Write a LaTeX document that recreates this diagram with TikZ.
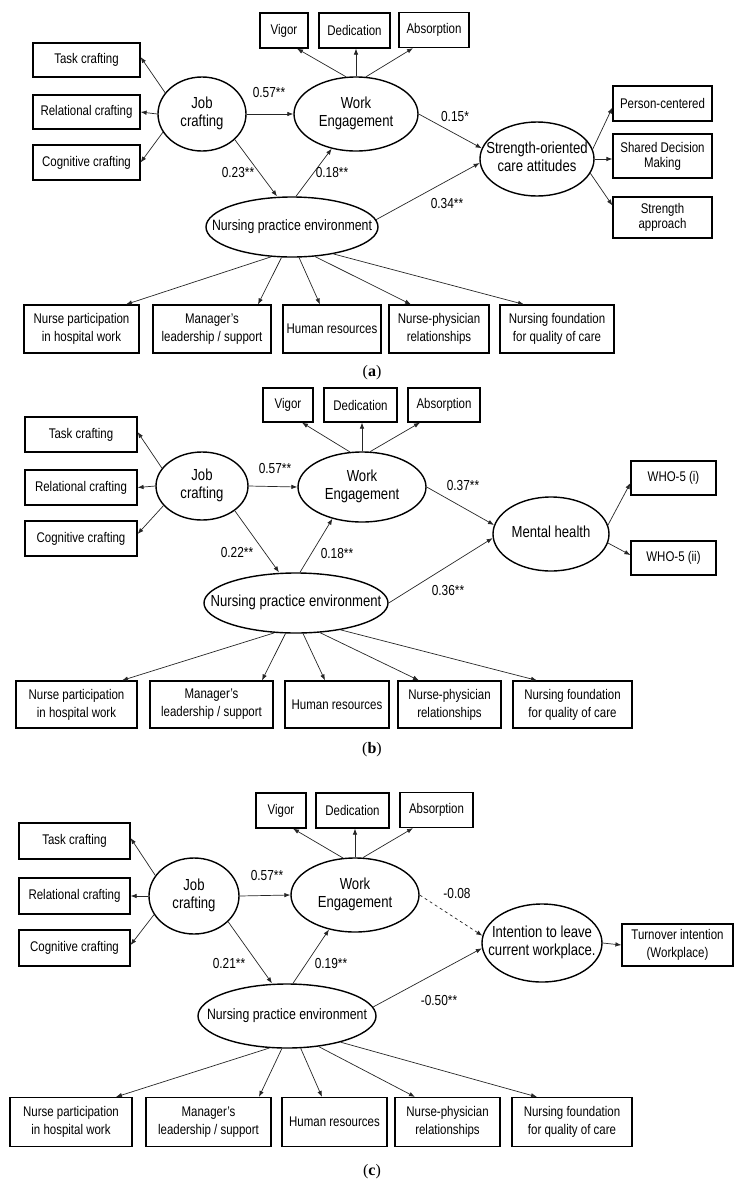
\documentclass[tikz,border=0pt]{standalone}
\usepackage{fontspec}
\setmainfont{Liberation Sans}[FakeStretch=0.82]
\newfontfamily\capfont{Liberation Serif}
\usetikzlibrary{arrows.meta,calc,shapes.geometric}
\newcommand\et[1]{\makebox[0pt]{\begin{tabular}{@{}c@{}}#1\end{tabular}}}
\tikzset{
 box/.style={draw, line width=1.2pt, rectangle, inner sep=0pt, align=center, font=\fontsize{14}{18}\selectfont},
 tight/.style={font=\fontsize{14}{15}\selectfont},
 ell/.style={draw, line width=1.4pt, ellipse, inner sep=0pt, font=\fontsize{16}{18.5}\selectfont},
 npetxt/.style={font=\fontsize{15}{18}\selectfont},
 arr/.style={-{Latex[length=6pt,width=4.5pt]}, line width=0.7pt, draw=black!85},
 coef/.style={inner sep=0pt, font=\fontsize{14.5}{16}\selectfont},
 captxt/.style={inner sep=0pt, font=\capfont\fontsize{16}{18}\selectfont},
}
\begin{document}
\begin{tikzpicture}[x=1pt,y=-1pt]
\useasboundingbox (0,0) rectangle (744,1187);
% ================= (a) =================
\node[box,minimum width=107pt,minimum height=34pt] (taskA) at (86.5,60) {Task crafting};
\node[box,minimum width=107pt,minimum height=34pt] (relA) at (86.5,112) {Relational crafting};
\node[box,minimum width=107pt,minimum height=35pt] (cogA) at (86.5,162.5) {Cognitive crafting};
\node[box,minimum width=48pt,minimum height=35pt] (vigA) at (284,30.5) {Vigor};
\node[box,minimum width=71pt,minimum height=35pt] (dedA) at (354.5,30.5) {Dedication};
\node[box,minimum width=70pt,minimum height=35pt] (absA) at (434,30) {Absorption};
\node[ell,minimum width=88pt,minimum height=74pt] (jcA) at (202,114) {\et{Job\\crafting}};
\node[ell,minimum width=124pt,minimum height=74pt] (weA) at (356,114) {\et{Work\\Engagement}};
\node[ell,npetxt,minimum width=172pt,minimum height=60pt] (npeA) at (292,227) {\et{Nursing practice environment}};
\node[ell,minimum width=114pt,minimum height=74pt] (socA) at (537,159) {\et{Strength-oriented\\care attitudes}};
\node[box,minimum width=99pt,minimum height=35pt] (pcA) at (662.5,103.5) {Person-centered};
\node[box,tight,minimum width=99pt,minimum height=44pt] (sdmA) at (662.5,156) {Shared Decision\\Making};
\node[box,tight,minimum width=99pt,minimum height=41pt] (saA) at (662.5,217.5) {Strength\\approach};
\node[box,minimum width=115pt,minimum height=48pt] (b1A) at (81.5,329) {Nurse participation\\in hospital work};
\node[box,minimum width=118pt,minimum height=48pt] (b2A) at (212,329) {Manager’s\\leadership / support};
\node[box,minimum width=98pt,minimum height=48pt] (b3A) at (332,329) {Human resources};
\node[box,minimum width=100pt,minimum height=48pt] (b4A) at (439,329) {Nurse-physician\\relationships};
\node[box,minimum width=114pt,minimum height=48pt] (b5A) at (557,329) {Nursing foundation\\for quality of care};
\node[captxt] (capA) at (372,373) {(\textbf{a})};
\node[coef] (cA1) at (269,93) {0.57**};
\node[coef] (cA2) at (238,173) {0.23**};
\node[coef] (cA3) at (332,173) {0.18**};
\node[coef] (cA4) at (455,117) {0.15*};
\node[coef] (cA5) at (447,204) {0.34**};
\draw[arr] (jcA.150) -- ($(taskA.east)+(0,-3)$);
\draw[arr] (jcA.west) -- (relA.east);
\draw[arr] (jcA.205) -- (cogA.east);
\draw[arr] (jcA.east) -- (weA.west);
\draw[arr] (jcA.-38) -- ($(npeA.north)+(-15,0)$);
\draw[arr] ($(npeA.north)+(4,0)$) -- (weA.-125);
\draw[arr] (weA.105) -- ($(vigA.south)+(13,0)$);
\draw[arr] (weA.north) -- (weA.north |- dedA.south);
\draw[arr] (weA.75) -- ($(absA.south)+(-21,0)$);
\draw[arr] (weA.east) -- (socA.169);
\draw[arr] (npeA.5) -- (socA.184);
\draw[arr] (socA.10) -- ($(pcA.west)+(0,4)$);
\draw[arr] (socA.east) -- (socA.east -| sdmA.west);
\draw[arr] (socA.-15) -- ($(saA.west)+(0,-12)$);
\draw[arr] (npeA.235.6) -- ($(b1A.north)+(44.5,0)$);
\draw[arr] (npeA.251.4) -- ($(b2A.north)+(46,0)$);
\draw[arr] (npeA.283.2) -- ($(b3A.north)+(-12,0)$);
\draw[arr] (npeA.308.5) -- ($(b4A.north)+(-28,0)$);
\draw[arr] (npeA.327.3) -- ($(b5A.north)+(-33,0)$);
% ================= (b) =================
\node[box,minimum width=112pt,minimum height=35pt] (taskB) at (81,434.5) {Task crafting};
\node[box,minimum width=112pt,minimum height=35pt] (relB) at (81,487.5) {Relational crafting};
\node[box,minimum width=112pt,minimum height=35pt] (cogB) at (81,538.5) {Cognitive crafting};
\node[box,minimum width=50pt,minimum height=34pt] (vigB) at (288,405) {Vigor};
\node[box,minimum width=73pt,minimum height=34pt] (dedB) at (360.5,405) {Dedication};
\node[box,minimum width=72pt,minimum height=34pt] (absB) at (444,405) {Absorption};
\node[ell,minimum width=92pt,minimum height=68pt] (jcB) at (202,486) {\et{Job\\crafting}};
\node[ell,minimum width=128pt,minimum height=70pt] (weB) at (362,487) {\et{Work\\Engagement}};
\node[ell,minimum width=184pt,minimum height=60pt] (npeB) at (296,603) {\et{Nursing practice environment}};
\node[ell,minimum width=116pt,minimum height=74pt] (mhB) at (551,534) {\et{Mental health}};
\node[box,minimum width=85pt,minimum height=34pt] (who1B) at (673.5,478) {WHO-5 (i)};
\node[box,minimum width=85pt,minimum height=34pt] (who2B) at (673.5,558) {WHO-5 (ii)};
\node[box,minimum width=121pt,minimum height=47pt] (b1B) at (76.5,704.5) {Nurse participation\\in hospital work};
\node[box,minimum width=123pt,minimum height=47pt] (b2B) at (211.5,704.5) {Manager’s\\leadership / support};
\node[box,minimum width=104pt,minimum height=47pt] (b3B) at (337,704.5) {Human resources};
\node[box,minimum width=103pt,minimum height=47pt] (b4B) at (449.5,704.5) {Nurse-physician\\relationships};
\node[box,minimum width=119pt,minimum height=47pt] (b5B) at (572.5,704.5) {Nursing foundation\\for quality of care};
\node[captxt] (capB) at (372,750) {(\textbf{b})};
\node[coef] (cB1) at (275,468) {0.57**};
\node[coef] (cB2) at (237,552) {0.22**};
\node[coef] (cB3) at (337,553) {0.18**};
\node[coef] (cB4) at (463,485) {0.37**};
\node[coef] (cB5) at (448,590) {0.36**};
\draw[arr] (jcB.156) -- ($(taskB.east)+(0,-2.5)$);
\draw[arr] (jcB.west) -- (relB.east);
\draw[arr] (jcB.207) -- ($(cogB.east)+(0,-4.5)$);
\draw[arr] (jcB.east) -- (weB.west);
\draw[arr] (jcB.-37) -- ($(npeB.north)+(-17,0)$);
\draw[arr] ($(npeB.north)+(4,0)$) -- (weB.227);
\draw[arr] (weB.109) -- ($(vigB.south)+(14,0)$);
\draw[arr] (weB.north) -- (weB.north |- dedB.south);
\draw[arr] (weB.77) -- ($(absB.south)+(-24,0)$);
\draw[arr] (weB.east) -- (mhB.171);
\draw[arr] (npeB.east) -- (mhB.184);
\draw[arr] (mhB.9) -- ($(who1B.west)+(0,5)$);
\draw[arr] (mhB.-9) -- ($(who2B.west)+(0,-3)$);
\draw[arr] (npeB.234.3) -- ($(b1B.north)+(45.5,0)$);
\draw[arr] (npeB.251.4) -- ($(b2B.north)+(50.5,0)$);
\draw[arr] (npeB.283.2) -- ($(b3B.north)+(-12,0)$);
\draw[arr] (npeB.309.6) -- ($(b4B.north)+(-30.5,0)$);
\draw[arr] (npeB.329.1) -- ($(b5B.north)+(-35.5,0)$);
% ================= (c) =================
\node[box,minimum width=111pt,minimum height=36pt] (taskC) at (74.5,841) {Task crafting};
\node[box,minimum width=111pt,minimum height=36pt] (relC) at (74.5,896) {Relational crafting};
\node[box,minimum width=111pt,minimum height=36pt] (cogC) at (74.5,948) {Cognitive crafting};
\node[box,minimum width=50pt,minimum height=35pt] (vigC) at (281,810.5) {Vigor};
\node[box,minimum width=73pt,minimum height=35pt] (dedC) at (352.5,810.5) {Dedication};
\node[box,minimum width=73pt,minimum height=35pt] (absC) at (436.5,810) {Absorption};
\node[ell,minimum width=90pt,minimum height=76pt] (jcC) at (194,896) {\et{Job\\crafting}};
\node[ell,minimum width=128pt,minimum height=74pt] (weC) at (355,895) {\et{Work\\Engagement}};
\node[ell,npetxt,minimum width=178pt,minimum height=64pt] (npeC) at (287,1016) {\et{Nursing practice environment}};
\node[ell,minimum width=120pt,minimum height=78pt] (itlC) at (542,943) {\et{Intention to leave\\current workplace.}};
\node[box,minimum width=111pt,minimum height=42pt] (toC) at (677.5,945) {Turnover intention\\(Workplace)};
\node[box,minimum width=122pt,minimum height=49pt] (b1C) at (71,1122) {Nurse participation\\in hospital work};
\node[box,minimum width=125pt,minimum height=49pt] (b2C) at (208.5,1122) {Manager’s\\leadership / support};
\node[box,minimum width=105pt,minimum height=49pt] (b3C) at (334.5,1122) {Human resources};
\node[box,minimum width=105pt,minimum height=49pt] (b4C) at (447.5,1122) {Nurse-physician\\relationships};
\node[box,minimum width=120pt,minimum height=49pt] (b5C) at (572,1122) {Nursing foundation\\for quality of care};
\node[captxt] (capC) at (372,1172) {(\textbf{c})};
\node[coef] (cC1) at (267,875) {0.57**};
\node[coef] (cC2) at (229,963) {0.21**};
\node[coef] (cC3) at (331,963) {0.19**};
\node[coef] (cC4) at (457,893) {-0.08};
\node[coef] (cC5) at (439,1000) {-0.50**};
\draw[arr] (jcC.152) -- ($(taskC.east)+(0,-3)$);
\draw[arr] (jcC.west) -- (relC.east);
\draw[arr] (jcC.205) -- ($(cogC.east)+(0,-3)$);
\draw[arr] (jcC.east) -- (weC.west);
\draw[arr] (jcC.-37) -- ($(npeC.north)+(-15,0)$);
\draw[arr] ($(npeC.north)+(6,0)$) -- (weC.-127);
\draw[arr] (weC.108) -- ($(vigC.south)+(12,0)$);
\draw[arr] (weC.north) -- (weC.north |- dedC.south);
\draw[arr] (weC.78) -- ($(absC.south)+(-23.5,0)$);
\draw[arr,dashed] (weC.east) -- (itlC.173);
\draw[arr] (npeC.6) -- (itlC.185);
\draw[arr] (itlC.east) -- (toC.west);
\draw[arr] (npeC.241.6) -- ($(b1C.north)+(45,0)$);
\draw[arr] (npeC.261.1) -- ($(b2C.north)+(50.5,0)$);
\draw[arr] (npeC.293.9) -- ($(b3C.north)+(-12.5,0)$);
\draw[arr] (npeC.316) -- ($(b4C.north)+(-32.5,0)$);
\draw[arr] (npeC.334.3) -- ($(b5C.north)+(-35,0)$);
\end{tikzpicture}
\end{document}
